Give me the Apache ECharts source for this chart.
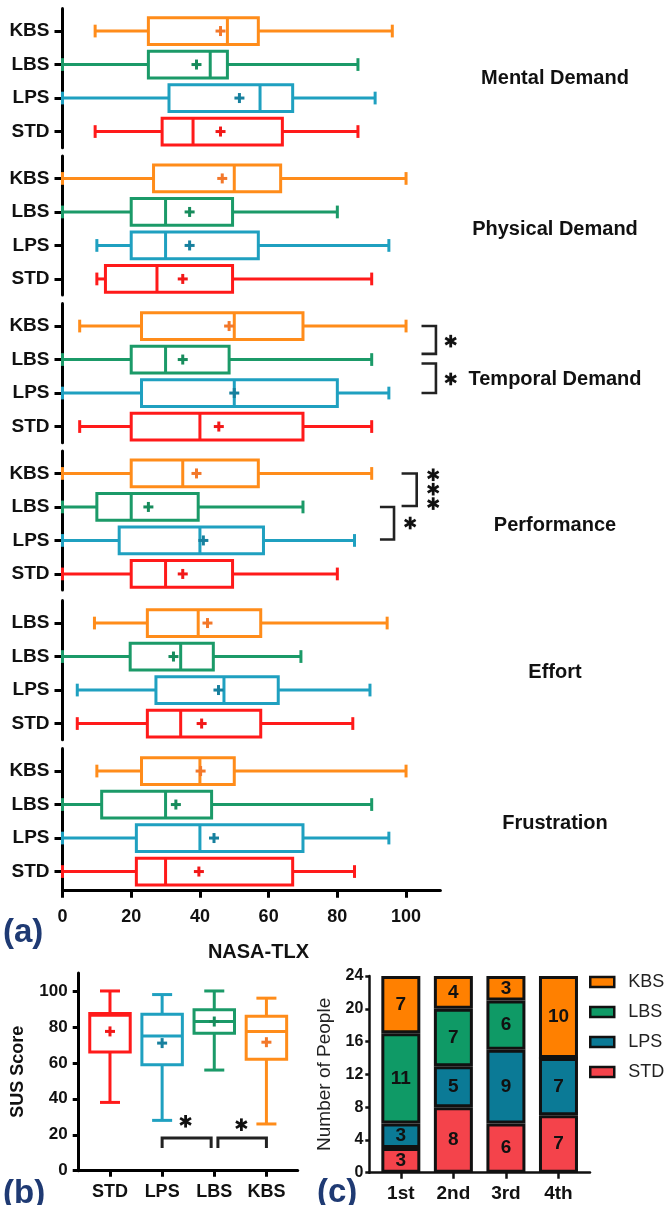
<!DOCTYPE html>
<html>
<head>
<meta charset="utf-8">
<script src="https://cdn.jsdelivr.net/npm/echarts@6/dist/echarts.min.js"></script>
<style>
  html, body { margin: 0; padding: 0; background: #fff; }
  #chart { width: 666px; height: 1205px; }
</style>
</head>
<body>
<div id="chart"></div>
<script>
const FONT = '"Liberation Sans", Arial, sans-serif'

// (a) NASA-TLX sub-scales, rows top to bottom, each box is [min, Q1, median, Q3, max]
const groupNames = ['Mental Demand', 'Physical Demand', 'Temporal Demand', 'Performance', 'Effort', 'Frustration']
const rowLabels = [
    ['KBS', 'LBS', 'LPS', 'STD'],
    ['KBS', 'LBS', 'LPS', 'STD'],
    ['KBS', 'LBS', 'LPS', 'STD'],
    ['KBS', 'LBS', 'LPS', 'STD'],
    ['LBS', 'LBS', 'LPS', 'STD'],
    ['KBS', 'LBS', 'LPS', 'STD'],
]
const mentalBoxes = [[9.5, 25, 48, 57, 96], [0, 25, 43, 48, 86], [0, 31, 57.5, 67, 91], [9.5, 29, 38, 64, 86]]
const mentalMeans = [46, 39, 51.5, 46]
const physicalBoxes = [[0, 26.5, 50, 63.5, 100], [0, 20, 30, 49.5, 80], [10, 20, 30, 57, 95], [10, 12.5, 27.5, 49.5, 90]]
const physicalMeans = [46.5, 37, 37, 35]
const temporalBoxes = [[5, 23, 50, 70, 100], [0, 20, 30, 48.5, 90], [0, 23, 50, 80, 95], [5, 20, 40, 70, 90]]
const temporalMeans = [48.5, 35, 50, 45.5]
const performanceBoxes = [[0, 20, 35, 57, 90], [0, 10, 20, 39.5, 70], [0, 16.5, 40, 58.5, 85], [0, 20, 30, 49.5, 80]]
const performanceMeans = [39, 25, 41, 35]
const effortBoxes = [[9.3, 24.7, 39.5, 57.7, 94.5], [0, 19.7, 34.4, 43.9, 69.4], [4.3, 27.2, 47, 62.8, 89.5], [4.3, 24.7, 34.4, 57.7, 84.5]]
const effortMeans = [42.2, 32.3, 45.4, 40.5]
const frustrationBoxes = [[10, 23, 40, 50, 100], [0, 11.4, 30, 43.4, 90], [0, 21.5, 40, 70, 95], [0, 21.5, 30, 67, 85]]
const frustrationMeans = [40.2, 33, 44.1, 39.7]
const tlxBoxes = [mentalBoxes, physicalBoxes, temporalBoxes, performanceBoxes, effortBoxes, frustrationBoxes]
const tlxMeans = [mentalMeans, physicalMeans, temporalMeans, performanceMeans, effortMeans, frustrationMeans]
const tlxTicks = [0, 20, 40, 60, 80, 100]

// significance brackets in (a): [xLeft, xRight, rowTop, rowBottom] and stars [x, row]
const temporalBrackets = [[104.5, 108.7, 0, 0.83], [104.5, 108.7, 1.12, 2]]
const temporalStars = [[113, 0.45], [113, 1.58]]
const performanceBrackets = [[98.7, 103.1, 0, 0.97], [92.4, 96.5, 1, 1.97]]
const performanceStars = [[107.9, 0.04], [107.9, 0.47], [107.9, 0.9], [101.2, 1.48]]

// (b) SUS score
const susCategories = ['STD', 'LPS', 'LBS', 'KBS']
const susBoxes = [[38, 66, 86.5, 87.5, 100], [28, 59, 75, 87, 98], [56, 76.5, 83, 89.5, 100], [26, 62, 77.5, 86, 96]]
const susMeans = [77.5, 71, 83, 71.5]
const susTicks = [0, 20, 40, 60, 80, 100]
const susBrackets = [[1, 1.94, 18.2, 12.6], [2.07, 3, 18.2, 12.6]]
const susStars = [[1.45, 27.5], [2.52, 25.6]]

// (c) ranking counts
const rankCategories = ['1st', '2nd', '3rd', '4th']
const rankSTD = [3, 8, 6, 7]
const rankLPS = [3, 5, 9, 7]
const rankLBS = [11, 7, 6, 0]
const rankKBS = [7, 4, 3, 10]

// colours, top row to bottom row in (a)
const rowColors = ['#FF8C1A', '#1B9A68', '#1FA0C0', '#FF1A1A']
const meanColors = ['#F3782A', '#178C5C', '#17809E', '#F21818']
const susColors = ['#FF1A1A', '#1FA0C0', '#1B9A68', '#FF8C1A']
const susMeanColors = ['#F21818', '#17809E', '#178C5C', '#F3782A']
const barColors = { KBS: '#FF8000', LBS: '#0F9A66', LPS: '#0B7A96', STD: '#F4434B' }

const groupTops = [8.6, 156, 303.6, 451, 600.6, 748.6]
const groupLabelY = [78, 229, 379, 525, 672, 823]

const line = (x1, y1, x2, y2, color, width) => ({
    type: 'line',
    shape: { x1, y1, x2, y2 },
    style: { stroke: color, lineWidth: width || 3 },
})

// horizontal box for (a)
function tlxBoxItem(params, api) {
    const row = api.value(0)
    const yc = api.coord([0, row])[1]
    const half = Math.abs(api.coord([0, row + 0.4])[1] - yc)
    const cap = Math.abs(api.coord([0, row + 0.19])[1] - yc)
    const px = (i) => api.coord([api.value(i), row])[0]
    const [mn, q1, md, q3, mx, mean] = [1, 2, 3, 4, 5, 6].map(px)
    const c = rowColors[row]
    const mc = meanColors[row]
    return {
        type: 'group',
        children: [
            line(mn, yc, q1, yc, c),
            line(q3, yc, mx, yc, c),
            line(mn, yc - cap, mn, yc + cap, c),
            line(mx, yc - cap, mx, yc + cap, c),
            { type: 'rect', shape: { x: q1, y: yc - half, width: q3 - q1, height: 2 * half }, style: { fill: 'none', stroke: c, lineWidth: 3 } },
            line(md, yc - half, md, yc + half, c),
            line(mean - 5, yc, mean + 5, yc, mc),
            line(mean, yc - 5, mean, yc + 5, mc),
        ],
    }
}

// vertical box for (b)
function susBoxItem(params, api) {
    const col = api.value(0)
    const xc = api.coord([col, 0])[0]
    const half = Math.abs(api.coord([col + 0.388, 0])[0] - xc)
    const cap = Math.abs(api.coord([col + 0.192, 0])[0] - xc)
    const py = (i) => api.coord([col, api.value(i)])[1]
    const [mn, q1, md, q3, mx, mean] = [1, 2, 3, 4, 5, 6].map(py)
    const c = susColors[col]
    const mc = susMeanColors[col]
    return {
        type: 'group',
        children: [
            line(xc, mn, xc, q1, c),
            line(xc, q3, xc, mx, c),
            line(xc - cap, mn, xc + cap, mn, c),
            line(xc - cap, mx, xc + cap, mx, c),
            { type: 'rect', shape: { x: xc - half, y: q3, width: 2 * half, height: q1 - q3 }, style: { fill: 'none', stroke: c, lineWidth: 3 } },
            line(xc - half, md, xc + half, md, c),
            line(xc - 5, mean, xc + 5, mean, mc),
            line(xc, mean - 5, xc, mean + 5, mc),
        ],
    }
}

// "]" bracket opening to the left
function sideBracketItem(params, api) {
    const a = api.coord([api.value(0), api.value(2)])
    const b = api.coord([api.value(1), api.value(3)])
    return {
        type: 'polyline',
        shape: { points: [[a[0], a[1]], [b[0], a[1]], [b[0], b[1]], [a[0], b[1]]] },
        style: { stroke: '#222', lineWidth: 2.6, fill: 'none' },
    }
}

// bracket opening downwards
function topBracketItem(params, api) {
    const a = api.coord([api.value(0), api.value(2)])
    const b = api.coord([api.value(1), api.value(3)])
    return {
        type: 'polyline',
        shape: { points: [[a[0], b[1]], [a[0], a[1]], [b[0], a[1]], [b[0], b[1]]] },
        style: { stroke: '#222', lineWidth: 3, fill: 'none' },
    }
}

function starItem(params, api) {
    const c = api.coord([api.value(0), api.value(1)])
    const r = 6.3
    return {
        type: 'group',
        children: [90, 30, -30].map((deg) => {
            const t = (deg * Math.PI) / 180
            const dx = r * Math.cos(t)
            const dy = r * Math.sin(t)
            return line(c[0] - dx, c[1] - dy, c[0] + dx, c[1] + dy, '#111', 2.8)
        }),
    }
}

const grids = []
const xAxes = []
const yAxes = []
const series = []
const graphics = []

const labelStyle = { fontFamily: FONT, fontWeight: 'bold', color: '#111' }

groupNames.forEach((name, g) => {
    const last = g === groupNames.length - 1
    const yMax = last ? 3.57 : 3.48
    grids.push({ left: 62.5, top: groupTops[g], width: 377.9, height: (yMax + 0.67) * 33.5, outerBoundsMode: 'none' })
    xAxes.push({
        gridIndex: g,
        type: 'value',
        position: 'bottom',
        min: 0,
        max: 110,
        show: last,
        axisLine: { show: true, onZero: false, lineStyle: { color: '#000', width: 3 } },
        axisTick: { show: true, customValues: tlxTicks, length: 7, lineStyle: { color: '#000', width: 3 } },
        axisLabel: { customValues: tlxTicks, fontSize: 18, margin: 17, ...labelStyle },
        splitLine: { show: false },
        name: last ? 'NASA-TLX' : '',
        nameLocation: 'middle',
        nameGap: 52,
        nameTextStyle: { fontSize: 20, padding: [0, 0, 0, 14], ...labelStyle },
    })
    yAxes.push({
        gridIndex: g,
        type: 'value',
        position: 'left',
        inverse: true,
        min: -0.67,
        max: yMax,
        axisLine: { show: true, onZero: false, lineStyle: { color: '#000', width: 3 } },
        axisTick: { show: true, customValues: [0, 1, 2, 3], length: 8, lineStyle: { color: '#000', width: 3 } },
        axisLabel: { customValues: [0, 1, 2, 3], formatter: (v) => rowLabels[g][v], fontSize: 19, margin: 13, ...labelStyle },
        splitLine: { show: false },
    })
    series.push({
        type: 'custom',
        name: 'tlx' + g,
        xAxisIndex: g,
        yAxisIndex: g,
        renderItem: tlxBoxItem,
        encode: { x: [1, 2, 3, 4, 5, 6], y: 0 },
        data: tlxBoxes[g].map((b, i) => [i, ...b, tlxMeans[g][i]]),
        z: 3,
    })
    graphics.push({
        type: 'text',
        style: {
            text: name, x: 555, y: groupLabelY[g],
            align: 'center', verticalAlign: 'middle', textAlign: 'center', textVerticalAlign: 'middle',
            font: 'bold 20px ' + FONT, fill: '#111',
        },
    })
})

const sigSets = [
    [2, temporalBrackets, temporalStars],
    [3, performanceBrackets, performanceStars],
]
sigSets.forEach(([g, brackets, stars]) => {
    series.push({ type: 'custom', xAxisIndex: g, yAxisIndex: g, renderItem: sideBracketItem, encode: { x: [0, 1], y: [2, 3] }, data: brackets, clip: false })
    series.push({ type: 'custom', xAxisIndex: g, yAxisIndex: g, renderItem: starItem, encode: { x: 0, y: 1 }, data: stars, clip: false })
})

// (b)
grids.push({ left: 78.7, top: 973, width: 219, height: 197.7, outerBoundsMode: 'none' })
xAxes.push({
    gridIndex: 6,
    type: 'value',
    position: 'bottom',
    min: -0.6,
    max: 3.6,
    axisLine: { show: true, onZero: false, lineStyle: { color: '#000', width: 3 } },
    axisTick: { show: true, customValues: [0, 1, 2, 3], length: 6, lineStyle: { color: '#000', width: 3 } },
    axisLabel: { customValues: [0, 1, 2, 3], formatter: (v) => susCategories[v], fontSize: 18, margin: 12, ...labelStyle },
    splitLine: { show: false },
})
yAxes.push({
    gridIndex: 6,
    type: 'value',
    position: 'left',
    min: 0,
    max: 110,
    axisLine: { show: true, onZero: false, lineStyle: { color: '#000', width: 3 } },
    axisTick: { show: true, customValues: susTicks, length: 6, lineStyle: { color: '#000', width: 3 } },
    axisLabel: { customValues: susTicks, fontSize: 17, margin: 11, ...labelStyle },
    splitLine: { show: false },
    name: 'SUS Score',
    nameLocation: 'middle',
    nameGap: 52,
    nameTextStyle: { fontSize: 18, ...labelStyle },
})
series.push({
    type: 'custom',
    xAxisIndex: 6,
    yAxisIndex: 6,
    renderItem: susBoxItem,
    encode: { x: 0, y: [1, 2, 3, 4, 5, 6] },
    data: susBoxes.map((b, i) => [i, ...b, susMeans[i]]),
})
series.push({ type: 'custom', xAxisIndex: 6, yAxisIndex: 6, renderItem: topBracketItem, encode: { x: [0, 1], y: [2, 3] }, data: susBrackets, clip: false })
series.push({ type: 'custom', xAxisIndex: 6, yAxisIndex: 6, renderItem: starItem, encode: { x: 0, y: 1 }, data: susStars, clip: false })

// (c)
grids.push({ left: 369.3, top: 976, width: 220.7, height: 196.7, outerBoundsMode: 'none' })
xAxes.push({
    gridIndex: 7,
    type: 'value',
    position: 'bottom',
    min: -0.6,
    max: 3.6,
    axisLine: { show: true, onZero: false, lineStyle: { color: '#111', width: 2.5 } },
    axisTick: { show: true, customValues: [0, 1, 2, 3], length: 6, lineStyle: { color: '#111', width: 2.5 } },
    axisLabel: { customValues: [0, 1, 2, 3], formatter: (v) => rankCategories[v], fontSize: 19, margin: 12, ...labelStyle },
    splitLine: { show: false },
})
yAxes.push({
    gridIndex: 7,
    type: 'value',
    position: 'left',
    min: 0,
    max: 24,
    interval: 4,
    axisLine: { show: true, onZero: false, lineStyle: { color: '#111', width: 2.5 } },
    axisTick: { show: true, length: 4, lineStyle: { color: '#111', width: 2.5 } },
    axisLabel: { fontSize: 16, margin: 6, ...labelStyle },
    splitLine: { show: false },
    name: 'Number of People',
    nameLocation: 'middle',
    nameGap: 35,
    nameTextStyle: { fontSize: 19, fontFamily: FONT, color: '#222' },
})
// value first, position second, so the stack runs along the count
const rankSeries = [['STD', rankSTD], ['LPS', rankLPS], ['LBS', rankLBS], ['KBS', rankKBS]]
rankSeries.forEach(([name, values]) => {
    series.push({
        type: 'bar',
        name,
        xAxisIndex: 7,
        yAxisIndex: 7,
        stack: 'rank',
        barWidth: 39,
        encode: { x: 1, y: 0 },
        data: values.map((v, i) => [v, i]),
        itemStyle: { color: barColors[name], borderColor: '#111', borderWidth: 3 },
        label: {
            show: true,
            position: 'inside',
            formatter: (p) => (p.value[0] ? String(p.value[0]) : ''),
            fontSize: 19,
            ...labelStyle,
        },
    })
})

// panel letters
const panelLetters = [['(a)', 3, 933], ['(b)', 3, 1194], ['(c)', 317, 1193]]
panelLetters.forEach(([t, x, y]) => {
    graphics.push({
        type: 'text',
        style: {
            text: t, x, y,
            align: 'left', verticalAlign: 'middle', textAlign: 'left', textVerticalAlign: 'middle',
            font: 'bold 33px ' + FONT, fill: '#1F3A73',
        },
    })
})

const chart = echarts.init(document.getElementById('chart'))
chart.setOption({
    animation: false,
    backgroundColor: '#fff',
    textStyle: { fontFamily: FONT },
    grid: grids,
    xAxis: xAxes,
    yAxis: yAxes,
    legend: {
        data: ['KBS', 'LBS', 'LPS', 'STD'],
        orient: 'vertical',
        left: 589,
        top: 973,
        padding: 0,
        itemWidth: 24,
        itemHeight: 10,
        itemGap: 12,
        icon: 'rect',
        itemStyle: { borderColor: '#111', borderWidth: 2.5 },
        textStyle: { fontSize: 18, fontFamily: FONT, color: '#222', padding: [0, 0, 0, 9] },
    },
    graphic: graphics,
    series,
})
</script>
</body>
</html>
